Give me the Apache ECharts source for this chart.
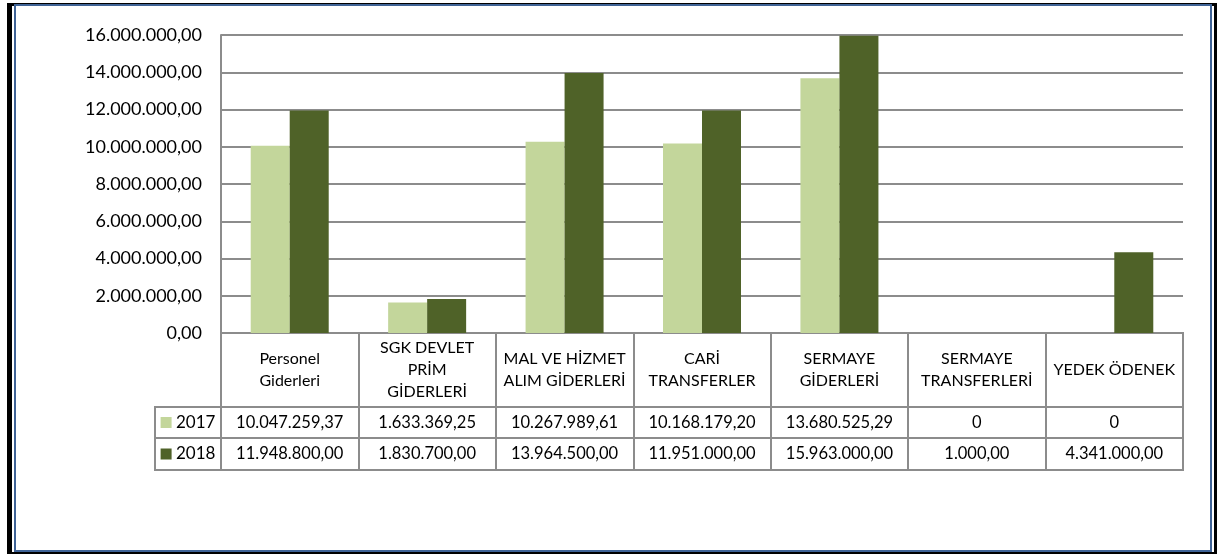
<!DOCTYPE html>
<html>
<head>
<meta charset="utf-8">
<script src="https://cdn.jsdelivr.net/npm/echarts@6/dist/echarts.min.js"></script>
<style>
    html, body { margin: 0; padding: 0; background: #fff; }
    #main { width: 1217px; height: 554px; }
    .frameBlack { position: absolute; left: 7px; top: 3px; width: 1210px; height: 551px; box-sizing: border-box;
        border-style: solid; border-color: #000; border-width: 3px 3px 2px 5px; pointer-events: none; }
    .frameBlue { position: absolute; left: 14px; top: 4px; width: 1198px; height: 548px; box-sizing: border-box;
        border: 2px solid #3f6396; pointer-events: none; }
</style>
</head>
<body>
<div id="main"></div>
<div class="frameBlack"></div>
<div class="frameBlue"></div>
<script>
// data
var categories = ['Personel\nGiderleri', 'SGK DEVLET\nPRİM\nGİDERLERİ', 'MAL VE HİZMET\nALIM GİDERLERİ',
    'CARİ\nTRANSFERLER', 'SERMAYE\nGİDERLERİ', 'SERMAYE\nTRANSFERLERİ', 'YEDEK ÖDENEK'];
var years = ['2017', '2018'];
var values2017 = [10047259.37, 1633369.25, 10267989.61, 10168179.20, 13680525.29, 0, 0];
var values2018 = [11948800.00, 1830700.00, 13964500.00, 11951000.00, 15963000.00, 1000.00, 4341000.00];
var yMin = 0, yMax = 16000000, yStep = 2000000;

var colorList = ['#c3d69b', '#4f6228'];
var lineColor = '#8c8c8c';
var fontName = 'Lato, "Open Sans", sans-serif';

// turkish style number: 1.234.567,89
function fmtTR(v, dec) {
    var parts = v.toFixed(dec).split('.');
    var intPart = parts[0].replace(/\B(?=(\d{3})+(?!\d))/g, '.');
    return parts.length > 1 ? intPart + ',' + parts[1] : intPart;
}
function cellText(v) {
    return v === 0 ? '0' : fmtTR(v, 2);
}

var chart = echarts.init(document.getElementById('main'));

// layout: main plot, header row, two value rows, two legend cells
var plotLeft = 221, plotWidth = 962;
var grids = [
    { left: plotLeft, top: 35, width: plotWidth, height: 298 },
    { left: plotLeft, top: 333, width: plotWidth, height: 74 },
    { left: plotLeft, top: 407, width: plotWidth, height: 31 },
    { left: plotLeft, top: 438, width: plotWidth, height: 32 },
    { left: 155, top: 407, width: 66, height: 31 },
    { left: 155, top: 438, width: 66, height: 32 }
];
grids.forEach(function (g, i) {
    g.containLabel = false;
    if (i > 0) {
        g.show = true;
        g.borderColor = lineColor;
        g.borderWidth = 2;
        g.backgroundColor = 'transparent';
    }
});

function tableAxis(gridIndex, data, fontSize, rich) {
    var h = grids[gridIndex].height;
    var label = {
        show: true,
        inside: true,
        interval: 0,
        margin: h / 2,
        verticalAlign: 'middle',
        align: 'center',
        color: '#000',
        fontFamily: fontName,
        fontSize: fontSize,
        lineHeight: 22
    };
    if (rich) {
        label.rich = rich;
        label.formatter = function (v) { return '{box|}{t| ' + v + '}'; };
    }
    return {
        type: 'category',
        gridIndex: gridIndex,
        data: data,
        boundaryGap: true,
        axisLine: { show: false },
        axisTick: { show: false },
        axisLabel: label,
        splitLine: { show: true, interval: 0, lineStyle: { color: lineColor, width: 2 } }
    };
}

function legendRich(color) {
    return {
        box: { width: 11, height: 11, backgroundColor: color },
        t: { fontFamily: fontName, fontSize: 17, color: '#000' }
    };
}

var xAxes = [
    {
        type: 'category',
        gridIndex: 0,
        data: categories,
        axisLine: { show: true, lineStyle: { color: lineColor, width: 2 } },
        axisTick: { show: false },
        axisLabel: { show: false }
    },
    tableAxis(1, categories, 16),
    tableAxis(2, values2017.map(cellText), 16.5),
    tableAxis(3, values2018.map(cellText), 16.5),
    tableAxis(4, [years[0]], 17, legendRich(colorList[0])),
    tableAxis(5, [years[1]], 17, legendRich(colorList[1]))
];

var yAxes = [{
    type: 'value',
    gridIndex: 0,
    min: yMin,
    max: yMax,
    interval: yStep,
    axisLine: { show: true, lineStyle: { color: lineColor, width: 2 } },
    axisTick: { show: false },
    axisLabel: {
        margin: 19,
        color: '#000',
        fontFamily: fontName,
        fontSize: 18,
        formatter: function (v) { return fmtTR(v, 2); }
    },
    splitLine: { lineStyle: { color: lineColor, width: 2 } }
}];
for (var i = 1; i < grids.length; i++) {
    yAxes.push({ type: 'value', gridIndex: i, min: 0, max: 1, show: false });
}

var option = {
    animation: false,
    color: colorList,
    grid: grids,
    xAxis: xAxes,
    yAxis: yAxes,
    series: [
        { name: years[0], type: 'bar', xAxisIndex: 0, yAxisIndex: 0, barWidth: 39, barGap: '0%', data: values2017 },
        { name: years[1], type: 'bar', xAxisIndex: 0, yAxisIndex: 0, barWidth: 39, barGap: '0%', data: values2018 }
    ]
};
chart.setOption(option);
</script>
</body>
</html>
